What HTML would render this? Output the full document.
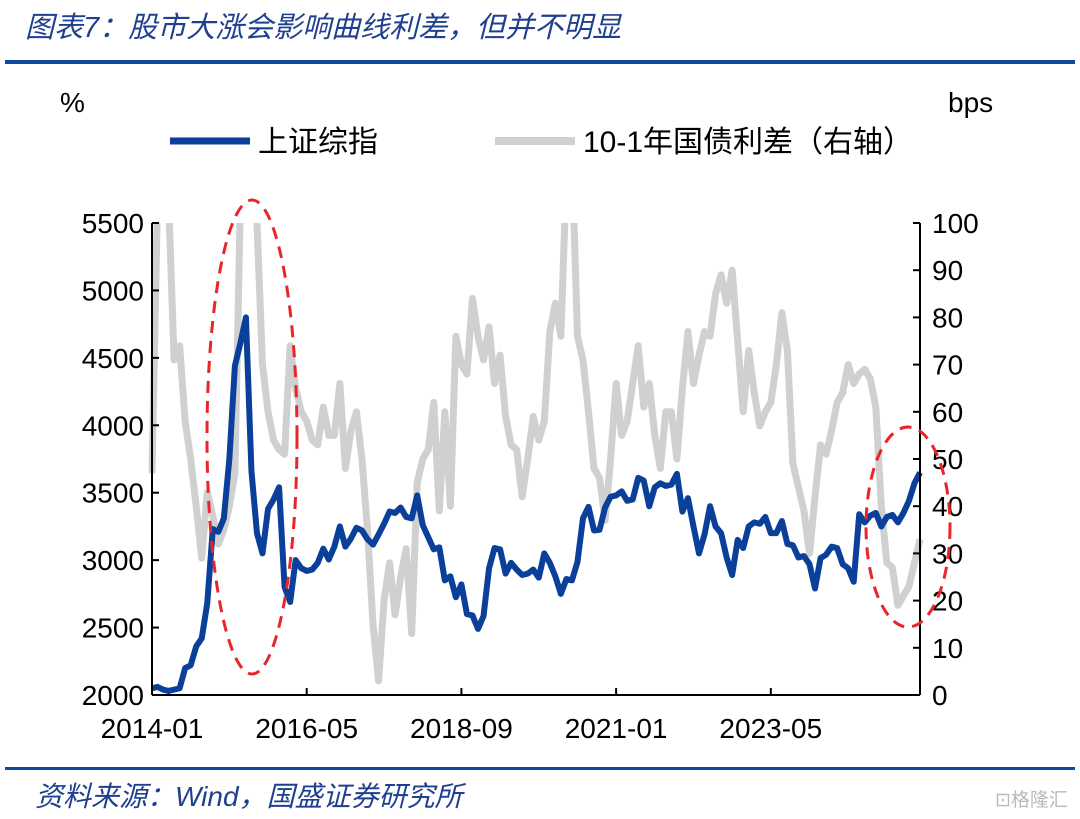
<!DOCTYPE html>
<html><head><meta charset="utf-8"><style>
body{margin:0;background:#fff;}
svg{display:block;font-family:"Liberation Sans","Noto Sans CJK SC",sans-serif;}
</style></head><body>
<svg id="c" width="1080" height="819" viewBox="0 0 1080 819">
<text x="25" y="37" font-size="29" font-style="italic" fill="#1f3f8f" font-family="'Liberation Sans','Noto Sans CJK SC',sans-serif">图表7：股市大涨会影响曲线利差，但并不明显</text>
<rect x="5" y="60" width="1070" height="4" fill="#0d4a9e"/>
<text x="60" y="112" font-size="28">%</text>
<text x="948" y="112" font-size="28">bps</text>
<g>
<line x1="170" y1="141" x2="250" y2="141" stroke="#0a3f9a" stroke-width="7"/>
<text x="258" y="152" font-size="30">上证综指</text>
<line x1="495" y1="141" x2="575" y2="141" stroke="#d0d0d0" stroke-width="8"/>
<text x="583" y="152" font-size="30">10-1年国债利差（右轴）</text>
</g>
<defs><clipPath id="pc"><rect x="148" y="223" width="776" height="472"/></clipPath></defs>
<g id="plot" clip-path="url(#pc)"></g>
<g id="axes"></g>
<ellipse cx="252" cy="437" rx="45" ry="237" fill="none" stroke="#e8262a" stroke-width="3" stroke-dasharray="12,8"/>
<ellipse cx="908" cy="527" rx="42" ry="100" fill="none" stroke="#e8262a" stroke-width="3" stroke-dasharray="12,8"/>
<rect x="5" y="767" width="1070" height="3" fill="#0d4a9e"/>
<text x="35" y="806" font-size="28" font-style="italic" fill="#1f3f8f">资料来源：Wind，国盛证券研究所</text>
<text x="995" y="806" font-size="19" fill="#bbb">⊡格隆汇</text>
</svg>
<script>
const sse = [2050,2060,2040,2030,2040,2050,2200,2220,2360,2420,2680,3230,
3210,3310,3750,4440,4610,4800,3660,3200,3050,3380,3450,3540,
2800,2690,3000,2940,2920,2930,2980,3085,3005,3100,3250,3100,
3160,3240,3220,3155,3115,3190,3270,3360,3350,3390,3320,3310,
3480,3260,3170,3080,3095,2850,2880,2725,2820,2600,2590,2490,
2585,2940,3090,3080,2900,2980,2930,2890,2900,2930,2870,3050,
2980,2880,2750,2860,2850,2985,3310,3395,3220,3225,3390,3470,
3480,3510,3440,3450,3610,3590,3400,3540,3570,3550,3560,3640,
3360,3460,3250,3050,3190,3400,3250,3200,3020,2890,3150,3090,
3250,3280,3270,3320,3200,3200,3290,3120,3110,3020,3030,2970,
2790,3015,3040,3100,3090,2970,2940,2840,3340,3280,3330,3350,
3250,3320,3335,3280,3350,3440,3570,3650];
const spread = [47,105,120,105,71,74,58,50,40,29,43,38,32,35,40,47,105,125,105,100,70,60,54,52,51,74,65,60,58,54,53,61,55,55,66,48,56,60,50,35,15,3,20,28,17,25,31,13,45,50,52,62,39,60,40,76,70,68,84,76,71,78,66,72,59,53,52,42,50,59,54,58,77,83,76,110,115,76,71,60,48,46,37,50,66,55,58,66,74,61,66,55,48,60,60,50,65,77,66,72,77,76,85,89,83,90,75,60,73,64,57,60,62,70,81,73,49,44,39,30,42,53,51,56,62,64,70,66,68,69,67,61,40,28,27,19,21,23,28,33];
const leftTicks = [2000,2500,3000,3500,4000,4500,5000,5500];
const rightTicks = [0,10,20,30,40,50,60,70,80,90,100];
const xLabels = ["2014-01","2016-05","2018-09","2021-01","2023-05"];
const xLabelIdx = [0,28,56,84,112];

const X0=152, X1=920, Y0=695, Y1=223, N=sse.length;
const xs = i => X0 + (X1-X0)*i/(N-1);
const yl = v => Y0 - (v-2000)/(5500-2000)*(Y0-Y1);
const yr = v => Y0 - v/100*(Y0-Y1);
const NS="http://www.w3.org/2000/svg";
function mk(tag, attrs, parent){const e=document.createElementNS(NS,tag);for(const k in attrs)e.setAttribute(k,attrs[k]);parent.appendChild(e);return e;}
const plot=document.getElementById('plot'), axes=document.getElementById('axes');

const gp = mk('polyline',{points:spread.map((v,i)=>xs(i)+','+yr(v)).join(' '),fill:'none',stroke:'#d0d0d0','stroke-width':7,'stroke-linejoin':'round'},plot);


const bp = mk('polyline',{points:sse.map((v,i)=>xs(i)+','+yl(v)).join(' '),fill:'none',stroke:'#0a3f9a','stroke-width':6,'stroke-linejoin':'round'},plot);



const la = mk('line',{x1:X0,y1:Y1,x2:X0,y2:Y0,stroke:'#000','stroke-width':2},axes);


const ra = mk('line',{x1:X1,y1:Y1,x2:X1,y2:Y0,stroke:'#000','stroke-width':2},axes);


const xa = mk('line',{x1:X0,y1:Y0,x2:X1,y2:Y0,stroke:'#000','stroke-width':2},axes);



leftTicks.forEach(v=>{
  mk('line',{x1:X0,y1:yl(v),x2:X0+7,y2:yl(v),stroke:'#000','stroke-width':2},axes);
  const t=mk('text',{x:X0-8,y:yl(v)+10,'font-size':28,'text-anchor':'end'},axes);
  t.textContent=v;
  
  
});
rightTicks.forEach(v=>{
  mk('line',{x1:X1-7,y1:yr(v),x2:X1,y2:yr(v),stroke:'#000','stroke-width':2},axes);
  const t=mk('text',{x:X1+12,y:yr(v)+10,'font-size':28},axes);
  t.textContent=v;
  
  
});
xLabels.forEach((s,k)=>{
  const x=xs(xLabelIdx[k]);
  mk('line',{x1:x,y1:Y0,x2:x,y2:Y0-7,stroke:'#000','stroke-width':2},axes);
  const t=mk('text',{x:x,y:Y0+43,'font-size':28,'text-anchor':'middle'},axes);
  t.textContent=s;
  
  
});
mk('line',{x1:X1,y1:Y0,x2:X1,y2:Y0-7,stroke:'#000','stroke-width':2},axes);
</script>
</body></html>
